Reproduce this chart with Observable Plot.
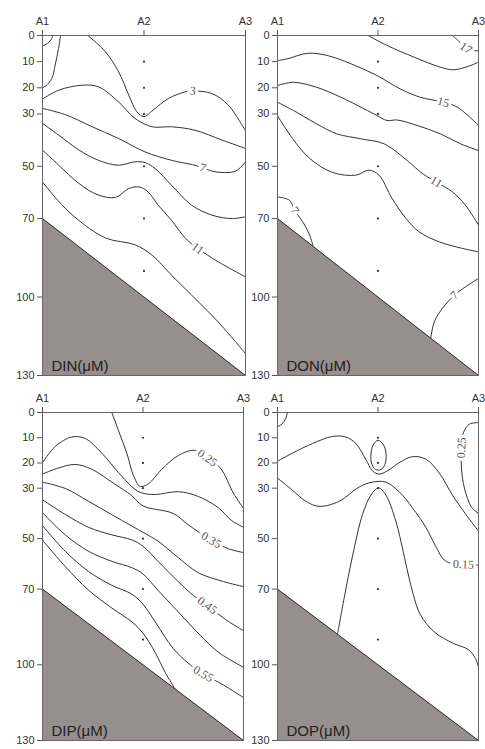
<!DOCTYPE html>
<html><head><meta charset="utf-8">
<script src="https://cdn.jsdelivr.net/npm/d3@7"></script>
<script src="https://cdn.jsdelivr.net/npm/@observablehq/plot@0.6"></script>
<style>
html,body{margin:0;padding:0;background:#fff;}
#wrap{position:relative;width:485px;height:749px;overflow:hidden;background:#fff;}
.panel{position:absolute;}
.panel svg{overflow:visible;}
</style></head><body><div id="wrap"></div>
<script>
// Stations along the section (x: 0 = A1, 1 = A2, 2 = A3) and depth (m)
const stations = ["A1", "A2", "A3"];
const depthTicks = [0, 10, 20, 30, 50, 70, 100, 130];
const sampleDepths = [10, 20, 30, 50, 70, 90];          // sample points at A2
const seabed = [[0, 70], [2, 130]];                       // [station, depth]
const panelNames = ["DIN(μM)", "DON(μM)", "DIP(μM)", "DOP(μM)"];

// ---- DIN isolines: [station, depth] ----
const dinLines = [
  [[0,4],[0.05,3],[0.09,1.2],[0.1,0]],
  [[0.177,0],[0.158,5],[0.125,11.3],[0.092,16.4],[0.035,19.2],[0,20]],
  [[0.446,0],[0.62,6.2],[0.75,13.9],[0.85,22.8],[0.93,29.2],[1.0,31],[1.09,28.5],[1.24,24.1],[1.41,21.5],[1.48,21.2],[1.67,22.2],[1.83,26.6],[2,36.5]],
  [[0,24.3],[0.16,20.9],[0.39,19],[0.55,19.6],[0.75,25.4],[0.91,31.7],[1.08,34.9],[1.27,34.9],[1.5,36.2],[1.77,40],[2,43.2]],
  [[0,27.9],[0.22,30.2],[0.49,34.9],[0.75,39.4],[1.01,44.5],[1.27,47.7],[1.5,49.6],[1.58,50.6],[1.7,52.1],[1.9,51.9],[2,48.3]],
  [[0,33.6],[0.16,38.1],[0.36,43.8],[0.55,47.7],[0.75,49.6],[0.91,48.3],[1.01,48.6],[1.11,50.9],[1.27,57.2],[1.47,64.9],[1.67,68.7],[1.87,70],[2,69.3]],
  [[0,43.8],[0.16,49.6],[0.36,56.6],[0.55,61],[0.72,61.9],[0.85,58.5],[0.95,57.9],[1.04,59.8],[1.14,64.9],[1.27,70.6],[1.41,77.6],[1.53,81.4],[1.73,86.5],[2,92.3]],
  [[0,56],[0.15,63],[0.32,69.5],[0.62,77.4],[0.91,80],[1.08,84],[1.27,91.6],[1.47,99.3],[1.73,109.5],[2,121.6]]
];
const dinLabels = [
  {line: 2, s: 1.48, d: 21.2, text: "3"},
  {line: 4, s: 1.58, d: 50.6, text: "7"},
  {line: 6, s: 1.53, d: 81.4, text: "11"}
];

// ---- DON isolines ----
const donLines = [
  [[0.9,0],[1.09,3.8],[1.36,8.3],[1.62,12.1],[1.75,13.1],[1.89,11.9],[2,10.2]],
  [[1.74,0],[1.8,2],[1.874,4.8],[1.95,5.8],[2,5.8]],
  [[0,9.6],[0.1,8.9],[0.3,6.8],[0.49,7.6],[0.73,10.8],[0.99,15.3],[1.22,20.4],[1.42,23.6],[1.65,25.5],[1.79,27.4],[2,34.4]],
  [[0,19.1],[0.16,17.9],[0.39,19.8],[0.63,23.6],[0.86,28],[0.99,30.6],[1.09,32.5],[1.19,32.3],[1.39,34.4],[1.62,37.6],[1.82,41.4],[2,44]],
  [[0,25.5],[0.16,28.7],[0.39,33.8],[0.59,37.6],[0.83,39.5],[1.06,41.4],[1.29,47.8],[1.45,53],[1.58,56],[1.74,59.8],[1.87,64.9],[2,72.5]],
  [[0,30.7],[0.15,39.4],[0.32,47],[0.55,52.4],[0.78,53.4],[0.91,51.5],[1.01,53.4],[1.14,62.3],[1.28,70],[1.41,75.1],[1.61,78.9],[1.84,81.4],[2,82.7]],
  [[0,61.7],[0.12,63],[0.17,66.8],[0.25,71.2],[0.32,76.3],[0.355,80.7]],
  [[2,92.9],[1.87,96.1],[1.76,99.3],[1.64,104.4],[1.56,109.5],[1.525,115.7]]
];
const donLabels = [
  {line: 1, s: 1.874, d: 4.8, text: "17"},
  {line: 2, s: 1.65, d: 25.5, text: "15"},
  {line: 4, s: 1.58, d: 56, text: "11"},
  {line: 6, s: 0.17, d: 66.8, text: "7"},
  {line: 7, s: 1.76, d: 99.3, text: "7"}
];

// ---- DIP isolines ----
const dipLines = [
  [[0.69,0],[0.756,7.2],[0.839,16.1],[0.905,25],[0.972,29.3],[1.055,28.2],[1.187,22.5],[1.353,17],[1.52,15],[1.64,18],[1.77,22],[1.9,32],[2,38]],
  [[0,19.9],[0.126,13.5],[0.292,9.7],[0.425,10.3],[0.59,16.1],[0.756,23.8],[0.922,30.5],[1.0,32],[1.121,32.5],[1.353,31.4],[1.552,33.3],[1.751,37.8],[1.884,42.9],[2,45.5]],
  [[0,24.4],[0.159,22],[0.325,20.6],[0.491,22.5],[0.69,27.6],[0.889,33],[1.0,37],[1.3,40],[1.45,44.5],[1.68,50.6],[1.85,54],[2,55.5]],
  [[0,27.6],[0.226,30.1],[0.458,35.2],[0.69,40.5],[0.889,45],[1.0,47.5],[1.15,51],[1.35,57.5],[1.55,63.5],[1.8,67],[2,69]],
  [[0,34.6],[0.226,40.4],[0.458,45.5],[0.69,48.5],[0.889,50.5],[1.0,53],[1.15,59],[1.35,67],[1.5,72.5],[1.64,76.5],[1.82,82],[2,86.5]],
  [[0,39.7],[0.226,48.5],[0.458,55],[0.69,59],[0.889,61.5],[1.0,64],[1.15,70.5],[1.35,79],[1.55,87.5],[1.75,95],[2,101]],
  [[0,44.8],[0.226,55],[0.458,63],[0.69,68.5],[0.889,72],[1.0,76],[1.13,83.5],[1.3,93.5],[1.47,100],[1.6,103.6],[1.8,108],[2,113]],
  [[0,50.6],[0.226,61],[0.458,70.4],[0.69,77.5],[0.889,83],[1.0,87.5],[1.12,95],[1.22,103],[1.32,109.6]]
];
const dipLabels = [
  {line: 0, s: 1.64, d: 18, text: "0.25"},
  {line: 2, s: 1.68, d: 50.6, text: "0.35"},
  {line: 4, s: 1.64, d: 76.5, text: "0.45"},
  {line: 6, s: 1.6, d: 103.6, text: "0.55"}
];

// ---- DOP isolines ----
const dopLines = [
  [[0.1,0],[0.08,2.5],[0.045,4.6],[0,5.6]],
  [[0,19.3],[0.149,16.1],[0.348,12.3],[0.547,9.5],[0.68,9.7],[0.78,12.3],[0.879,18.6],[0.945,23.1],[1.01,24.4],[1.095,23.1],[1.21,19.9],[1.343,17.5],[1.476,18.5],[1.61,24],[1.74,32.7],[1.874,40.4],[2,47]],
  [[2,4],[1.91,4.6],[1.85,8],[1.83,14],[1.83,22],[1.86,30],[1.93,37.5],[2,40]],
  [[0,26],[0.149,30.8],[0.282,35.2],[0.415,37.2],[0.614,35.2],[0.813,29.5],[0.945,27.6],[1.078,27.6],[1.21,31.4],[1.343,37.8],[1.476,45.5],[1.575,53.1],[1.66,58.5],[1.75,60],[1.85,60.2],[2,60.5]],
  [[0.597,87.9],[0.663,73.6],[0.746,57],[0.846,40.4],[0.93,32.7],[1.005,29.9],[1.078,32.7],[1.177,43],[1.25,55],[1.3,64],[1.35,72],[1.42,80],[1.56,87],[1.75,91.5],[1.9,94],[1.97,97.5],[2,101]]
];
const dopLoop = [[1.0,11],[1.055,12.8],[1.08,16.5],[1.07,20.5],[1.03,22.6],[0.975,22.6],[0.935,20],[0.93,16.5],[0.95,13]];
const dopLabels = [
  {line: 2, s: 1.83, d: 14, text: "0.25"},
  {line: 3, s: 1.85, d: 60.2, text: "0.15"}
];

const INK = "#333";
const SEABED_FILL = "#978f8e";

function panel({lines, loops = [], labels, name, left, top, width, height, mLeft, mRight}) {
  const mTop = 35, mBottom = 5;
  const kx = (width - mLeft - mRight) / 2, ky = (height - mTop - mBottom) / 130;
  const lineData = lines.flatMap((pts, i) => pts.map(([s, d]) => ({s, d, id: i})));
  const loopData = loops.flatMap((pts, i) => pts.map(([s, d]) => ({s, d, id: i})));
  const labelData = labels.map(l => {
    const pts = lines[l.line];
    let j = 0, best = Infinity;
    pts.forEach(([s, d], k) => {
      const dist = Math.hypot((s - l.s) * kx, (d - l.d) * ky);
      if (dist < best) { best = dist; j = k; }
    });
    const a = pts[Math.max(0, j - 1)], b = pts[Math.min(pts.length - 1, j + 1)];
    let ang = Math.atan2((b[1] - a[1]) * ky, (b[0] - a[0]) * kx) * 180 / Math.PI;
    if (ang >= 90) ang -= 180;
    if (ang < -90) ang += 180;
    return {...l, rotate: ang};
  });
  const chart = Plot.plot({
    width, height,
    marginLeft: mLeft, marginRight: mRight, marginTop: mTop, marginBottom: mBottom,
    x: {domain: [0, 2], label: null},
    y: {domain: [0, 130], reverse: true, label: null},
    style: {fontFamily: "'Liberation Sans', Arial, sans-serif", color: INK, background: "transparent", overflow: "visible"},
    marks: [
      Plot.line(lineData, {x: "s", y: "d", z: "id", curve: "catmull-rom", stroke: INK, strokeWidth: 1, clip: true}),
      Plot.line(loopData, {x: "s", y: "d", z: "id", curve: "catmull-rom-closed", stroke: INK, strokeWidth: 1, clip: true}),
      Plot.areaY(seabed, {x: d => d[0], y1: d => d[1], y2: 130, fill: SEABED_FILL}),
      Plot.line(seabed, {x: d => d[0], y: d => d[1], stroke: "#2b2b2b", strokeWidth: 1}),
      Plot.dot(sampleDepths, {x: () => 1, y: d => d, r: 1.1, fill: INK, stroke: null}),
      Plot.text(labelData, {x: "s", y: "d", text: "text", rotate: "rotate", fontFamily: "'Liberation Serif', serif", fontSize: 12, fill: "white", stroke: "white", strokeWidth: 6}),
      Plot.text(labelData, {x: "s", y: "d", text: "text", rotate: "rotate", fontFamily: "'Liberation Serif', serif", fontSize: 12, fill: "#555"}),
      Plot.frame({stroke: "#666", strokeWidth: 1}),
      Plot.axisX([0, 1, 2], {anchor: "top", tickFormat: i => stations[i], tickSize: 6, tickPadding: 5, fontSize: 11, stroke: "#555"}),
      Plot.axisY(depthTicks, {anchor: "left", tickSize: 5, tickPadding: 3, fontSize: 11, stroke: "#555"}),
      Plot.text([name], {frameAnchor: "bottom-left", text: d => d, dx: 9, dy: -5, textAnchor: "start", lineAnchor: "bottom", fontSize: 15, fill: "#222"})
    ]
  });
  const div = document.createElement("div");
  div.className = "panel";
  div.style.left = left + "px";
  div.style.top = top + "px";
  div.appendChild(chart);
  document.getElementById("wrap").appendChild(div);
}

panel({lines: dinLines, labels: dinLabels, name: panelNames[0], left: 0, top: 0, width: 250, height: 380, mLeft: 42, mRight: 5});
panel({lines: donLines, labels: donLabels, name: panelNames[1], left: 240, top: 0, width: 245, height: 380, mLeft: 37, mRight: 7});
panel({lines: dipLines, labels: dipLabels, name: panelNames[2], left: 0, top: 377, width: 250, height: 368, mLeft: 42, mRight: 7});
panel({lines: dopLines, loops: [dopLoop], labels: dopLabels, name: panelNames[3], left: 240, top: 377, width: 245, height: 368, mLeft: 37, mRight: 7});
</script>
</body></html>
